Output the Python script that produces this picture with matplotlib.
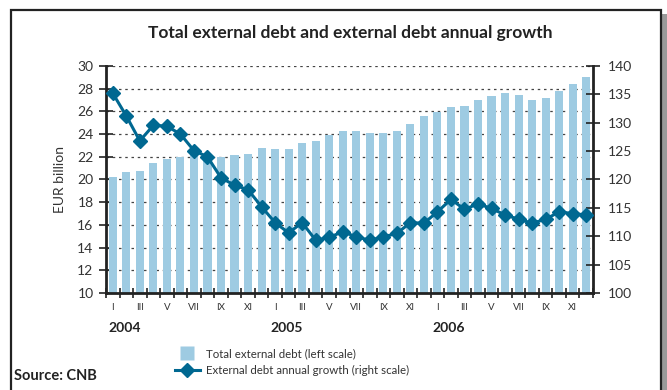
import numpy as np
import matplotlib
matplotlib.use('Agg')
from matplotlib import pyplot as plt
from matplotlib.patches import Rectangle
from matplotlib.lines import Line2D

plt.rcParams['font.family'] = ['Lato', 'DejaVu Sans']

# monthly data, I.2004 - XII.2006
debt = [20.2, 20.66, 20.75, 21.45, 21.8, 21.98, 22.15, 22.0, 21.98, 22.13, 22.25, 22.78,
        22.69, 22.69, 23.2, 23.38, 23.92, 24.27, 24.27, 24.1, 24.1, 24.27, 24.89, 25.6,
        25.97, 26.39, 26.48, 27.0, 27.36, 27.62, 27.45, 27.0, 27.18, 27.8, 28.41, 29.03]
growth = [135.2, 131.2, 126.8, 129.55, 129.4, 128.0, 125.1, 124.0, 120.3, 119.0, 118.2, 115.2,
          112.4, 110.6, 112.4, 109.3, 109.8, 110.8, 109.9, 109.3, 109.9, 110.5, 112.4, 112.3,
          114.3, 116.5, 114.75, 115.7, 114.9, 113.75, 113.0, 112.3, 113.0, 114.3, 114.0, 113.75]
month_labels = ['I', '', 'III', '', 'V', '', 'VII', '', 'IX', '', 'XI', '']
years = ['2004', '2005', '2006']

bar_col = '#9ecbe2'
line_col = '#006891'
txt_col = '#333333'

fig = plt.figure(figsize=(6.67, 3.90), dpi=100)

# outer frame + shadow
fig.patches.append(Rectangle((662/667, 0), 5/667, 1 - 14/390, transform=fig.transFigure,
                             facecolor='#9a9a9a', edgecolor='none', zorder=0))
fig.patches.append(Rectangle((11/667, -0.05), 650/667, 1.05 - 10/390, transform=fig.transFigure,
                             facecolor='white', edgecolor='#222222', linewidth=1.6, zorder=1))

ax = fig.add_axes([106/667, 1 - 293/390, 487/667, 227/390])
ax.set_zorder(2)
x = np.arange(len(debt))
ax.bar(x, debt, width=0.6, color=bar_col, zorder=2)
ax.set_xlim(-0.5, len(debt) - 0.5)
ax.set_ylim(10, 30)
ax.set_yticks(np.arange(10, 31, 2))
ax.yaxis.grid(True, color='#444444', linestyle=(0, (2, 3)), linewidth=0.9, zorder=1)
ax.set_axisbelow(True)
ax.patch.set_alpha(0)

ax.set_xticks(x)
ax.set_xticklabels(month_labels * 3, fontsize=7, color=txt_col)
ax.tick_params(axis='x', which='major', length=0, pad=7)
ax.set_xticks(np.arange(-0.5, len(debt), 1), minor=True)
ax.tick_params(axis='x', which='minor', direction='inout', length=7, width=1.2, color='#222222')
ax.tick_params(axis='y', direction='inout', length=10, width=1.2, color='#222222',
               labelsize=10, labelcolor=txt_col, pad=4)
for s in ['left', 'bottom']:
    ax.spines[s].set_linewidth(2)
    ax.spines[s].set_color('#222222')
ax.spines['top'].set_visible(False)
ax.spines['right'].set_visible(False)
ax.set_ylabel('EUR billion', fontsize=10, color=txt_col, labelpad=8)

for i, y in enumerate(years):
    ax.text(i * 12 - 0.35, -0.155, y, transform=ax.get_xaxis_transform(),
            fontsize=10, fontweight='bold', color='#222222', ha='left', va='center')

ax2 = ax.twinx()
ax2.plot(x, growth, color=line_col, linewidth=2.2, marker='D', markersize=7.5,
         markeredgecolor=line_col, zorder=3)
ax2.set_ylim(100, 140)
ax2.set_yticks(np.arange(100, 141, 5))
ax2.tick_params(axis='y', direction='inout', length=10, width=1.2, color='#222222',
                labelsize=10, labelcolor=txt_col, pad=6)
for s in ['top', 'left', 'bottom']:
    ax2.spines[s].set_visible(False)
ax2.spines['right'].set_linewidth(2)
ax2.spines['right'].set_color('#222222')

fig.text(350/667, 1 - 33/390, 'Total external debt and external debt annual growth',
         fontsize=12.5, fontweight='bold', color='#222222', ha='center', va='center', zorder=3)

# legend
h1 = Line2D([], [], color='none', marker='s', markersize=10, markerfacecolor=bar_col,
            markeredgecolor='none')
h2 = Line2D([], [], color=line_col, linewidth=2.2, marker='D', markersize=7.5)
fig.legend([h1, h2], ['Total external debt (left scale)', 'External debt annual growth (right scale)'],
           loc='center left', bbox_to_anchor=(169/667, 1 - 362/390), frameon=False,
           fontsize=8.3, labelcolor=txt_col, handlelength=2.2, handletextpad=0.5,
           labelspacing=0.45, borderpad=0)

fig.text(14/667, 1 - 376/390, 'Source: CNB', fontsize=10.5, fontweight='bold',
         color='#222222', ha='left', va='center', zorder=3)

fig.savefig('out.png', dpi=100)
